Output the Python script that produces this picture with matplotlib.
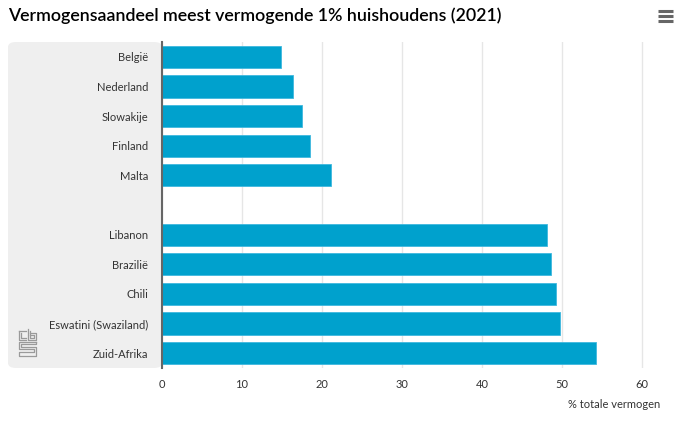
import matplotlib
matplotlib.use("Agg")
import matplotlib.pyplot as plt
from matplotlib.patches import FancyBboxPatch
from matplotlib.lines import Line2D

categories = ["België", "Nederland", "Slowakije", "Finland", "Malta", "",
              "Libanon", "Brazilië", "Chili", "Eswatini (Swaziland)", "Zuid-Afrika"]
values = [14.9, 16.4, 17.5, 18.5, 21.1, None, 48.1, 48.6, 49.2, 49.7, 54.2]
xticks = [0, 10, 20, 30, 40, 50, 60]
title = "Vermogensaandeel meest vermogende 1% huishoudens (2021)"
xlabel = "% totale vermogen"

plt.rcParams['font.family'] = ['Lato', 'DejaVu Sans']

W, H = 680, 422
fig = plt.figure(figsize=(W/100, H/100), dpi=100)

def fx(px):
    return px / W
def fy(py):
    return 1 - py / H

# grey panel behind labels
panel = FancyBboxPatch((fx(8), fy(368)), fx(162) - fx(8), fy(42) - fy(368),
                       boxstyle="round,pad=0,rounding_size=0.012",
                       transform=fig.transFigure, facecolor="#efefef",
                       edgecolor="none", zorder=-5)
fig.patches.append(panel)

ax = fig.add_axes([fx(162), fy(368), fx(660) - fx(162), fy(42) - fy(368)])
ax.set_facecolor("none")
ax.set_zorder(2)

ypos = list(range(len(categories)))
for y, v in zip(ypos, values):
    if v is None:
        continue
    ax.barh(y, v, height=0.75, color="#00a1cd", edgecolor="#3fb8de",
            linewidth=0.6, zorder=3)

ax.set_ylim(len(categories) - 0.5, -0.5)
ax.set_xlim(0, 62.25)
ax.set_xticks(xticks)
ax.set_xticklabels([str(t) for t in xticks], fontsize=8, color="#333333")
ax.set_yticks(ypos)
ax.set_yticklabels(categories, fontsize=8, color="#333333")
ax.tick_params(axis='y', length=0, pad=10)
ax.tick_params(axis='x', length=0, pad=8)
ax.grid(axis='x', color="#e6e6e6", linewidth=1, zorder=0)
for s in ["top", "right", "bottom"]:
    ax.spines[s].set_visible(False)
ax.spines["left"].set_color("#666666")
ax.spines["left"].set_linewidth(1.5)
ax.spines["left"].set_zorder(4)

fig.text(fx(660), fy(404), xlabel, ha="right", va="center", fontsize=8, color="#333333")
fig.text(fx(8), fy(16), title, ha="left", va="center", fontsize=12.8,
         fontweight="semibold", color="#000000")

# hamburger menu icon
for py in (11, 16, 21):
    fig.add_artist(Line2D([fx(658), fx(673)], [fy(py), fy(py)], color="#666666",
                          linewidth=2.2, transform=fig.transFigure, solid_capstyle="butt"))

# simplified CBS logo
logo = [
    [(19, 331), (19, 340), (26, 340)],
    [(19, 331), (26, 331)],
    [(21, 333), (21, 338), (26, 338)],
    [(28, 329), (28, 340), (36, 340), (36, 333), (30, 333)],
    [(30, 331), (30, 338), (34, 338), (34, 335), (30, 335)],
    [(36, 342), (19, 342), (19, 349), (34, 349), (34, 352), (19, 352), (19, 356), (36, 356), (36, 347), (21, 347), (21, 344), (36, 344), (36, 342)],
]
for path in logo:
    xs = [fx(p[0]) for p in path]
    ys = [fy(p[1]) for p in path]
    fig.add_artist(Line2D(xs, ys, color="#9a9a9a", linewidth=0.9,
                          transform=fig.transFigure))

fig.savefig("out.png", dpi=100)
